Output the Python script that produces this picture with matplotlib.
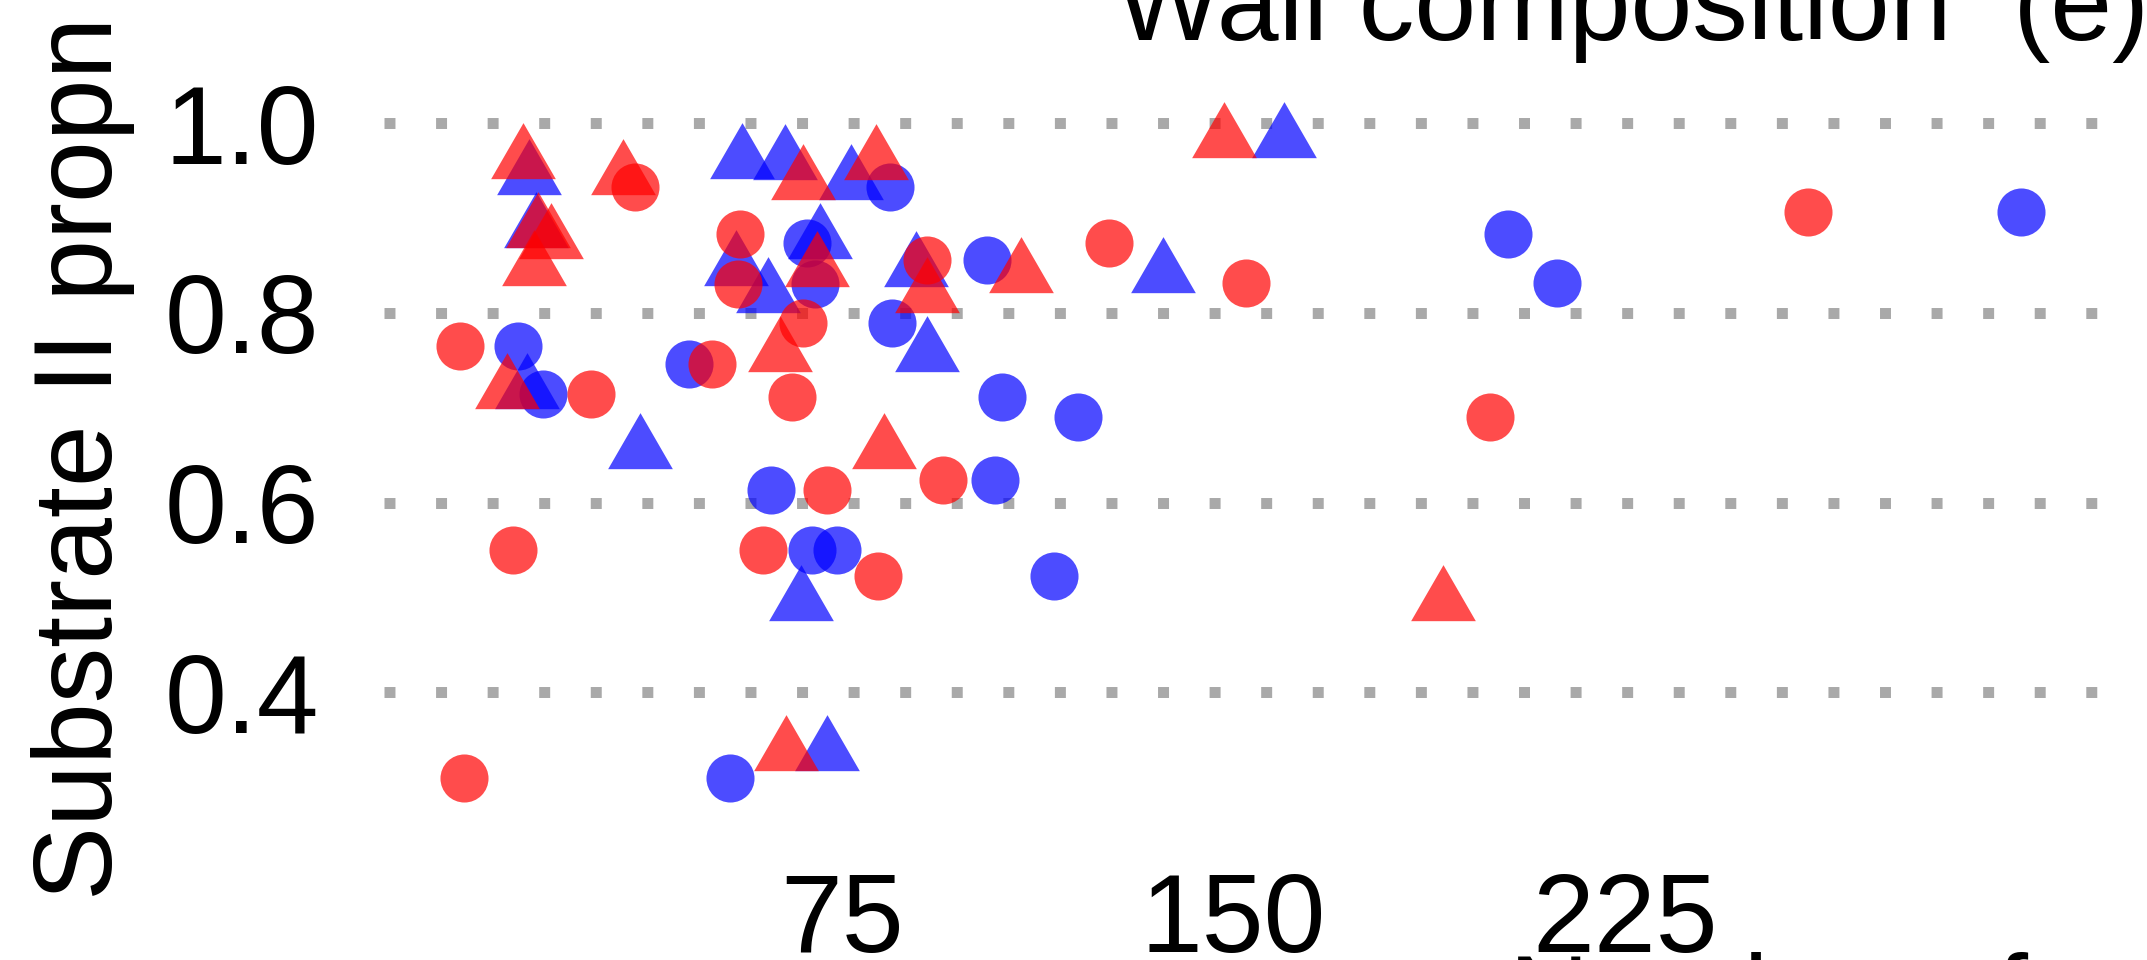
import numpy as np
import matplotlib
matplotlib.use("Agg")
import matplotlib.pyplot as plt

# each row is one pair: same proportion, count for the red and for the blue record
circ_y = [0.933, 0.906, 0.883, 0.874, 0.856, 0.831, 0.832, 0.789, 0.765, 0.746,
          0.715, 0.711, 0.690, 0.624, 0.613, 0.550, 0.550, 0.523, 0.310]
circ_red = [35.3, 260.0, 55.5, 126.2, 91.2, 55.1, 152.4, 67.6, 1.8, 50.0,
            27.0, 65.4, 199.1, 94.4, 72.1, 11.9, 59.9, 81.8, 2.5]
circ_blue = [84.2, 300.8, 202.5, 68.2, 102.8, 69.8, 211.9, 84.5, 13.0, 45.6,
             17.8, 105.6, 120.3, 104.3, 61.3, 69.2, 74.1, 115.6, 53.5]

tri_y = [0.983, 0.961, 0.960, 0.944, 0.939, 0.889, 0.877, 0.848, 0.847, 0.841,
         0.820, 0.758, 0.719, 0.656, 0.495, 0.337]
tri_red = [148.2, 13.9, 81.5, 33.0, 67.5, 16.8, 19.3, 15.9, 70.2, 109.3,
           91.2, 63.1, 10.9, 83.0, 190.1, 64.2]
tri_blue = [159.7, 55.8, 64.1, 15.0, 76.7, 16.4, 70.8, 54.7, 89.2, 136.4,
            60.8, 91.2, 14.6, 36.3, 67.1, 72.2]

x_ticks = [75, 150, 225]
y_ticks = [0.4, 0.6, 0.8, 1.0]

red = (1, 0, 0, 0.7)
blue = (0, 0, 1, 0.7)

plt.rcParams["font.family"] = ["Liberation Sans", "DejaVu Sans"]

# filled triangle like R's pch 17 (centred on its centroid)
trc0 = np.sqrt(4 * np.pi / (3 * np.sqrt(3)))
tri = [(0, trc0), (trc0 * np.sqrt(3) / 2, -trc0 / 2), (-trc0 * np.sqrt(3) / 2, -trc0 / 2)]

W, H = 2147, 960
fig = plt.figure(figsize=(W / 100, H / 100), dpi=100)
left, right, top, bottom = 384, 2098, 113.8, 803.4
ax = fig.add_axes([left / W, 1 - bottom / H, (right - left) / W, (bottom - top) / H])
ax.set_xlim(-12.74, 315.6)
ax.set_ylim(0.283, 1.010)

for yv in y_ticks:
    ax.axhline(yv, color="#a9a9a9", lw=7.9, ls=(0, (1.0, 3.7)), zorder=1)

circ_s = 34.6 ** 2
tri_s = 53.8 ** 2
ax.scatter(circ_blue, circ_y, s=circ_s, marker="o", color=blue, linewidths=0, zorder=3, clip_on=False)
ax.scatter(tri_blue, tri_y, s=tri_s, marker=tri, color=blue, linewidths=0, zorder=3, clip_on=False)
ax.scatter(circ_red, circ_y, s=circ_s, marker="o", color=red, linewidths=0, zorder=4, clip_on=False)
ax.scatter(tri_red, tri_y, s=tri_s, marker=tri, color=red, linewidths=0, zorder=4, clip_on=False)

for sp in ax.spines.values():
    sp.set_visible(False)
ax.set_xticks(x_ticks)
ax.set_xticklabels([str(v) for v in x_ticks])
ax.set_yticks(y_ticks)
ax.set_yticklabels([f"{v:.1f}" for v in y_ticks])
ax.tick_params(axis="both", length=0, labelsize=80)
ax.tick_params(axis="x", pad=49)
ax.tick_params(axis="y", pad=46.8)

ax.set_title("Wall composition  (e)", fontsize=80, loc="left", x=0.4271, y=1.107,
             va="baseline", pad=0)

ax.set_ylabel("Substrate II propn", fontsize=80)
ax.yaxis.set_label_coords(-0.1587, -0.140)
ax.yaxis.label.set_ha("left")
ax.yaxis.label.set_va("baseline")

ax.set_xlabel("Number of cells", fontsize=80)
ax.xaxis.set_label_coords(0.6564, -0.3324)
ax.xaxis.label.set_ha("left")
ax.xaxis.label.set_va("baseline")

fig.savefig("out.png", dpi=100, facecolor="white")
